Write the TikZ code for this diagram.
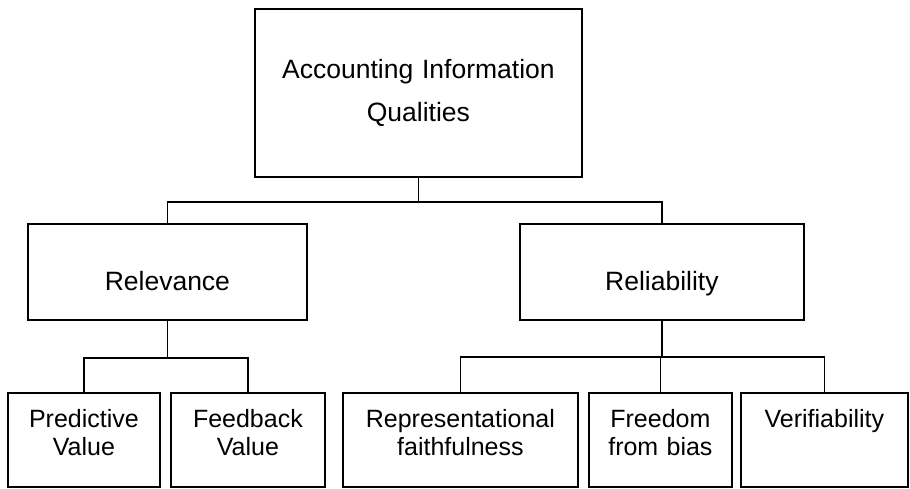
\documentclass[tikz,border=0pt]{standalone}
\usepackage{fontspec}
\setmainfont{Liberation Sans}
\usetikzlibrary{positioning}
\newcommand{\headfont}{\fontsize{13.25}{21.5}\selectfont}
\newcommand{\leaffont}{\fontsize{12.5}{14}\selectfont}
\tikzset{
  box/.style={draw, line width=0.9pt, inner sep=0pt, anchor=north west, align=center},
  headbox/.style={box, font=\headfont, text height=33.5pt, text depth=14.5pt},
  leafbox/.style={box, font=\leaffont, text height=17.5pt, text depth=29.7pt},
  link/.style={line width=0.9pt}
}
\begin{document}
\begin{tikzpicture}[x=0.5pt, y=-0.5pt]
  \useasboundingbox (0,0) rectangle (910,488);

  \node[box, font=\headfont, text width=163.5pt, text height=35pt, text depth=49pt] (qual) at (254,8) {Accounting Information\\Qualities};

  \node[headbox, text width=139.5pt] (relev) at (27,223) {Relevance};
  \node[headbox, text width=142pt] (relia) at (519,223) {Reliability};

  \node[leafbox, text width=76pt] (pred) at (7,392) {Predictive\\Value};
  \node[leafbox, text width=77pt] (feed) at (170,392) {Feedback\\Value};
  \node[leafbox, text width=117.5pt] (repr) at (342,392) {Representational\\faithfulness};
  \node[leafbox, text width=71.5pt] (free) at (588,392) {Freedom\\from bias};
  \node[leafbox, text width=83.5pt] (veri) at (740,392) {Verifiability};

  % forks between the levels
  \draw[link] (qual.south) -- ++(0,24) coordinate (fork1) -| (relev.north);
  \draw[link] (fork1) -| (relia.north);

  \draw[link] (relev.south) -- ++(0,37) coordinate (fork2) -| (pred.north);
  \draw[link] (fork2) -| (feed.north);

  \draw[link] (relia.south) -- ++(0,36) coordinate (fork3) -| (repr.north);
  \draw[link] (fork3) -| (free.north);
  \draw[link] (fork3) -| (veri.north);
\end{tikzpicture}
\end{document}
